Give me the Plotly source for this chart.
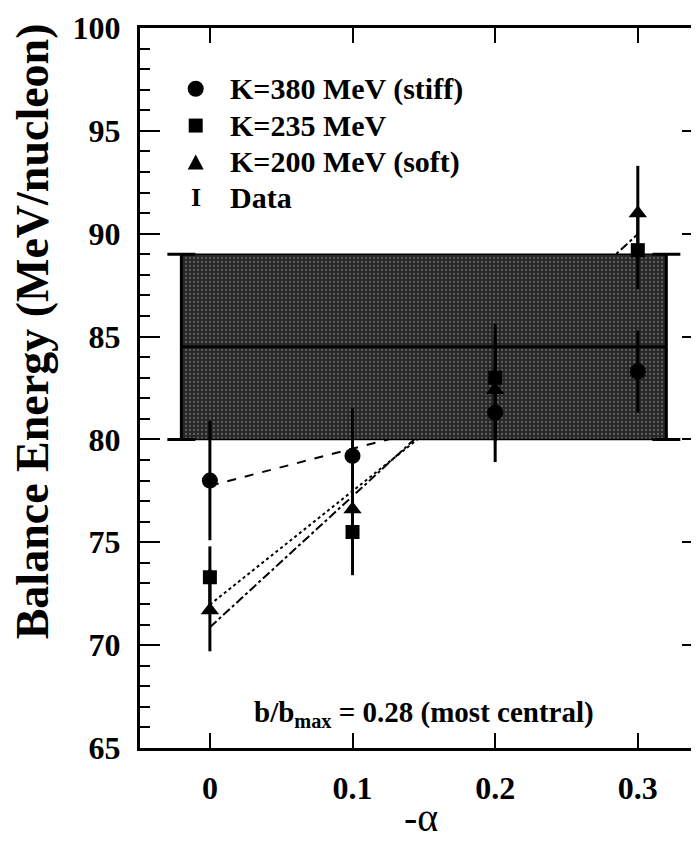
import numpy as np
import plotly.graph_objects as go

# ---- data ----
alpha = [0.0, 0.1, 0.2, 0.3]
e_stiff = [78.0, 79.2, 81.3, 83.3]      # K=380 MeV (circles)
err_stiff = [2.9, 2.3, 2.4, 2.0]
e_mid = [73.3, 75.5, 83.0, 89.2]        # K=235 MeV (squares)
err_mid = [1.5, 2.1, 2.6, 1.9]
e_soft = [71.7, 76.6, 82.4, 91.0]       # K=200 MeV (triangles)
err_soft = [2.0, 1.5, 2.5, 2.3]

data_x = [-0.02, 0.32]                  # extent of the measured band
data_center = 84.5
data_err = 4.5

x_ticks = [0.0, 0.1, 0.2, 0.3]
x_ticklabels = ["0", "0.1", "0.2", "0.3"]

FONT = "Liberation Serif"
W, H = 699, 842
L, R, T, B = 132, 2, 17, 102
PW, PH = W - L - R, H - T - B

def px_x(px):
    return (px - L) / PW

def px_y(py):
    return (H - B - py) / PH

fig = go.Figure()

# linear fits (drawn first, so the band covers them)
series = [
    (e_stiff, err_stiff, "circle", 16, "dash"),
    (e_mid, err_mid, "square", 14, "dot"),
    (e_soft, err_soft, "triangle-up", 16, "dashdot"),
]
for ys, _, _, _, dash in series:
    coef = np.polyfit(alpha, ys, 1)
    xf = [alpha[0], alpha[-1]]
    fig.add_trace(go.Scatter(x=xf, y=list(np.polyval(coef, xf)), mode="lines",
                             line=dict(color="black", width=2, dash=dash),
                             showlegend=False, hoverinfo="skip"))

# measured band
lo = data_center - data_err
hi = data_center + data_err
fig.add_trace(go.Scatter(x=data_x, y=[lo, lo], mode="lines",
                         line=dict(color="black", width=1.5), showlegend=False))
fig.add_trace(go.Scatter(x=data_x, y=[hi, hi], mode="lines", fill="tonexty",
                         fillcolor="#2a2a2a",
                         fillpattern=dict(shape=".", bgcolor="#262626", fgcolor="#9a9a9a",
                                          size=4, solidity=0.25),
                         line=dict(color="black", width=1.5), showlegend=False))
fig.add_trace(go.Scatter(x=data_x, y=[data_center, data_center], mode="lines",
                         line=dict(color="black", width=3),
                         error_y=dict(type="data", array=[data_err, data_err], visible=True,
                                      color="black", thickness=3, width=14),
                         showlegend=False))

# model points with error bars
for ys, errs, sym, size, _ in series:
    fig.add_trace(go.Scatter(x=alpha, y=ys, mode="markers",
                             marker=dict(symbol=sym, size=size, color="black"),
                             error_y=dict(type="data", array=errs, visible=True,
                                          color="black", thickness=3, width=0),
                             showlegend=False))

# ---- hand-made legend ----
leg_rows = [0.9156, 0.8645, 0.8133, 0.7649]
leg_text = ["K=380 MeV (stiff)", "K=235 MeV", "K=200 MeV (soft)", "Data"]
sx = px_x(188)
shapes = []
shapes.append(dict(type="circle", xref="paper", yref="paper", xsizemode="pixel", ysizemode="pixel",
                   xanchor=sx, yanchor=leg_rows[0], x0=-8, x1=8, y0=-8, y1=8,
                   fillcolor="black", line=dict(color="black", width=0)))
shapes.append(dict(type="rect", xref="paper", yref="paper", xsizemode="pixel", ysizemode="pixel",
                   xanchor=sx, yanchor=leg_rows[1], x0=-7, x1=7, y0=-7, y1=7,
                   fillcolor="black", line=dict(color="black", width=0)))
shapes.append(dict(type="path", xref="paper", yref="paper", xsizemode="pixel", ysizemode="pixel",
                   xanchor=sx, yanchor=leg_rows[2], path="M -8,-7 L 8,-7 L 0,8 Z",
                   fillcolor="black", line=dict(color="black", width=0)))

annotations = []
for yy, tx in zip(leg_rows, leg_text):
    annotations.append(dict(text=tx, x=px_x(220), y=yy, xref="paper", yref="paper",
                            xanchor="left", yanchor="middle", showarrow=False,
                            font=dict(family=FONT, size=30, color="black", weight="bold")))
annotations.append(dict(text="I", x=sx, y=leg_rows[3], xref="paper", yref="paper",
                        xanchor="center", yanchor="middle", showarrow=False,
                        font=dict(family=FONT, size=26, color="black", weight="bold")))
annotations.append(dict(text="b/b<sub>max</sub> = 0.28 (most central)", x=px_x(418), y=px_y(706),
                        xref="paper", yref="paper", xanchor="center", yanchor="middle",
                        showarrow=False,
                        font=dict(family=FONT, size=29, color="black", weight="bold")))
annotations.append(dict(text="Balance Energy (MeV/nucleon)", x=px_x(24), y=px_y(322),
                        xref="paper", yref="paper", xanchor="center", yanchor="middle",
                        textangle=-90, showarrow=False,
                        font=dict(family=FONT, size=46, color="black", weight="bold")))
annotations.append(dict(text="-α", x=0.5, y=px_y(810), xref="paper", yref="paper",
                        xanchor="center", yanchor="middle", showarrow=False,
                        font=dict(family=FONT, size=40, color="black")))

fig.update_layout(
    width=W, height=H, autosize=False,
    margin=dict(l=L, r=R, t=T, b=B),
    paper_bgcolor="white", plot_bgcolor="white",
    showlegend=False,
    shapes=shapes, annotations=annotations,
    xaxis=dict(range=[-0.049, 0.345], tickvals=x_ticks, ticktext=x_ticklabels,
               ticks="inside", ticklen=15, tickwidth=2, tickcolor="black",
               showline=True, linewidth=3, linecolor="black", mirror="ticks",
               showgrid=False, zeroline=False, ticklabelstandoff=10,
               ticklabeloverflow="allow",
               tickfont=dict(family=FONT, size=32, color="black", weight="bold")),
    yaxis=dict(range=[65, 100], dtick=5, tick0=65,
               ticks="inside", ticklen=20, tickwidth=2, tickcolor="black",
               minor=dict(dtick=1, ticks="inside", ticklen=10, tickwidth=1.5, tickcolor="black"),
               showline=True, linewidth=3, linecolor="black", mirror="ticks",
               showgrid=False, zeroline=False, ticklabelstandoff=10,
               ticklabeloverflow="allow",
               tickfont=dict(family=FONT, size=32, color="black", weight="bold")),
)

fig.write_html("out.html")
